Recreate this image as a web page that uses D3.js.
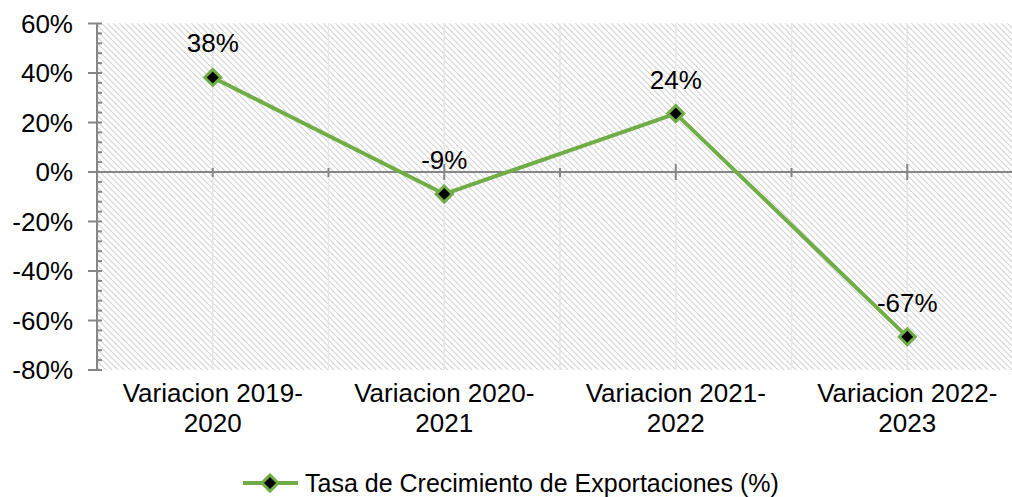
<!DOCTYPE html>
<meta charset="utf-8" />
<title>Tasa de Crecimiento de Exportaciones</title>
<style>
  body { margin: 0; background: #fff; }
  text { font-family: "Liberation Sans", Arial, sans-serif; fill: #000; }
</style>
<body>
<script src="https://d3js.org/d3.v7.min.js"></script>
<script>
  // data
  var categories = [
    ["Variacion 2019-", "2020"],
    ["Variacion 2020-", "2021"],
    ["Variacion 2021-", "2022"],
    ["Variacion 2022-", "2023"]
  ];
  var growth = [38.2, -8.9, 23.6, -66.6];
  var yTicks = [-80, -60, -40, -20, 0, 20, 40, 60];
  var seriesName = "Tasa de Crecimiento de Exportaciones (%)";

  var width = 1012, height = 497;
  var plotLeft = 97, plotRight = 1023, plotTop = 23.5, plotBottom = 370;
  var green = "#70ad47";
  var fontSize = "26px";

  var svg = d3.select("body").append("svg")
    .attr("width", width)
    .attr("height", height);

  // diagonal hatch like the excel fill
  var defs = svg.append("defs");
  var pat = defs.append("pattern")
    .attr("id", "hatch")
    .attr("patternUnits", "userSpaceOnUse")
    .attr("width", 6)
    .attr("height", 6);
  pat.append("path")
    .attr("d", "M-1,-1 L7,7 M-4,2 L2,8 M4,-4 L10,2")
    .attr("stroke", "#d2d2d2")
    .attr("stroke-width", 1.1);

  var x = d3.scaleBand()
    .domain(d3.range(categories.length))
    .range([plotLeft, plotRight]);

  var y = d3.scaleLinear()
    .domain([-80, 60])
    .range([plotBottom, plotTop]);

  function cx(i) { return x(i) + x.bandwidth() / 2; }

  // plot background
  svg.append("rect")
    .attr("x", plotLeft)
    .attr("y", plotTop)
    .attr("width", plotRight - plotLeft)
    .attr("height", plotBottom - plotTop)
    .attr("fill", "url(#hatch)");

  // vertical gridlines at centers and boundaries
  var gridX = [];
  categories.forEach(function(c, i) {
    gridX.push(cx(i));
    if (i > 0) gridX.push(x(i));
  });
  svg.append("g").selectAll("line")
    .data(gridX)
    .enter()
    .append("line")
    .attr("x1", function(d) { return d; })
    .attr("x2", function(d) { return d; })
    .attr("y1", plotTop)
    .attr("y2", plotBottom)
    .attr("stroke", "#e6e6e6")
    .attr("stroke-width", 1.5);

  // y axis
  var yAxis = svg.append("g");
  yAxis.append("line")
    .attr("x1", plotLeft).attr("x2", plotLeft)
    .attr("y1", plotTop).attr("y2", plotBottom)
    .attr("stroke", "#868686").attr("stroke-width", 2);
  var minor = d3.range(-80, 61, 4).filter(function(v) { return v % 20 !== 0; });
  yAxis.selectAll(".minor")
    .data(minor)
    .enter()
    .append("line")
    .attr("x1", plotLeft).attr("x2", plotLeft + 5)
    .attr("y1", function(d) { return y(d); })
    .attr("y2", function(d) { return y(d); })
    .attr("stroke", "#868686").attr("stroke-width", 2);
  yAxis.selectAll(".major")
    .data(yTicks)
    .enter()
    .append("line")
    .attr("x1", plotLeft - 9).attr("x2", plotLeft + 5)
    .attr("y1", function(d) { return y(d); })
    .attr("y2", function(d) { return y(d); })
    .attr("stroke", "#868686").attr("stroke-width", 2);
  yAxis.selectAll("text")
    .data(yTicks)
    .enter()
    .append("text")
    .attr("x", 73)
    .attr("y", function(d) { return y(d); })
    .attr("dy", "0.35em")
    .attr("text-anchor", "end")
    .style("font-size", fontSize)
    .text(function(d) { return d + "%"; });

  // x axis along zero
  var xAxis = svg.append("g");
  xAxis.append("line")
    .attr("x1", plotLeft).attr("x2", plotRight)
    .attr("y1", y(0)).attr("y2", y(0))
    .attr("stroke", "#868686").attr("stroke-width", 2);
  xAxis.selectAll(".tick")
    .data(gridX)
    .enter()
    .append("line")
    .attr("x1", function(d) { return d; })
    .attr("x2", function(d) { return d; })
    .attr("y1", function(d, i) { return y(0) - (i % 2 ? 8 : 4); })
    .attr("y2", function(d, i) { return y(0) + (i % 2 ? 8 : 5); })
    .attr("stroke", "#868686").attr("stroke-width", 2);

  // category labels
  var cat = svg.append("g").selectAll("text")
    .data(categories)
    .enter()
    .append("text")
    .attr("text-anchor", "middle")
    .style("font-size", fontSize);
  cat.append("tspan")
    .attr("x", function(d, i) { return cx(i); })
    .attr("y", 402)
    .text(function(d) { return d[0]; });
  cat.append("tspan")
    .attr("x", function(d, i) { return cx(i); })
    .attr("y", 432)
    .text(function(d) { return d[1]; });

  // series line
  var line = d3.line()
    .x(function(d, i) { return cx(i); })
    .y(function(d) { return y(d); });
  svg.append("path")
    .datum(growth)
    .attr("d", line)
    .attr("fill", "none")
    .attr("stroke", green)
    .attr("stroke-width", 4)
    .attr("stroke-linejoin", "round");

  var diamond = d3.symbol().type(d3.symbolDiamond2).size(165);
  svg.append("g").selectAll("path")
    .data(growth)
    .enter()
    .append("path")
    .attr("d", diamond)
    .attr("transform", function(d, i) {
      return "translate(" + cx(i) + "," + y(d) + ")";
    })
    .attr("fill", "#000")
    .attr("stroke", green)
    .attr("stroke-width", 3);

  // data labels
  svg.append("g").selectAll("text")
    .data(growth)
    .enter()
    .append("text")
    .attr("x", function(d, i) { return cx(i); })
    .attr("y", function(d) { return y(d) - 25; })
    .attr("text-anchor", "middle")
    .style("font-size", fontSize)
    .text(function(d) { return Math.round(d) + "%"; });

  // legend
  var lg = svg.append("g").attr("transform", "translate(243,483)");
  lg.append("line")
    .attr("x1", 0).attr("x2", 55)
    .attr("stroke", green).attr("stroke-width", 4);
  lg.append("path")
    .attr("d", diamond)
    .attr("transform", "translate(27,0)")
    .attr("fill", "#000")
    .attr("stroke", green)
    .attr("stroke-width", 3);
  lg.append("text")
    .attr("x", 62)
    .attr("dy", "0.35em")
    .style("font-size", "25px")
    .text(seriesName);
</script>
</body>
